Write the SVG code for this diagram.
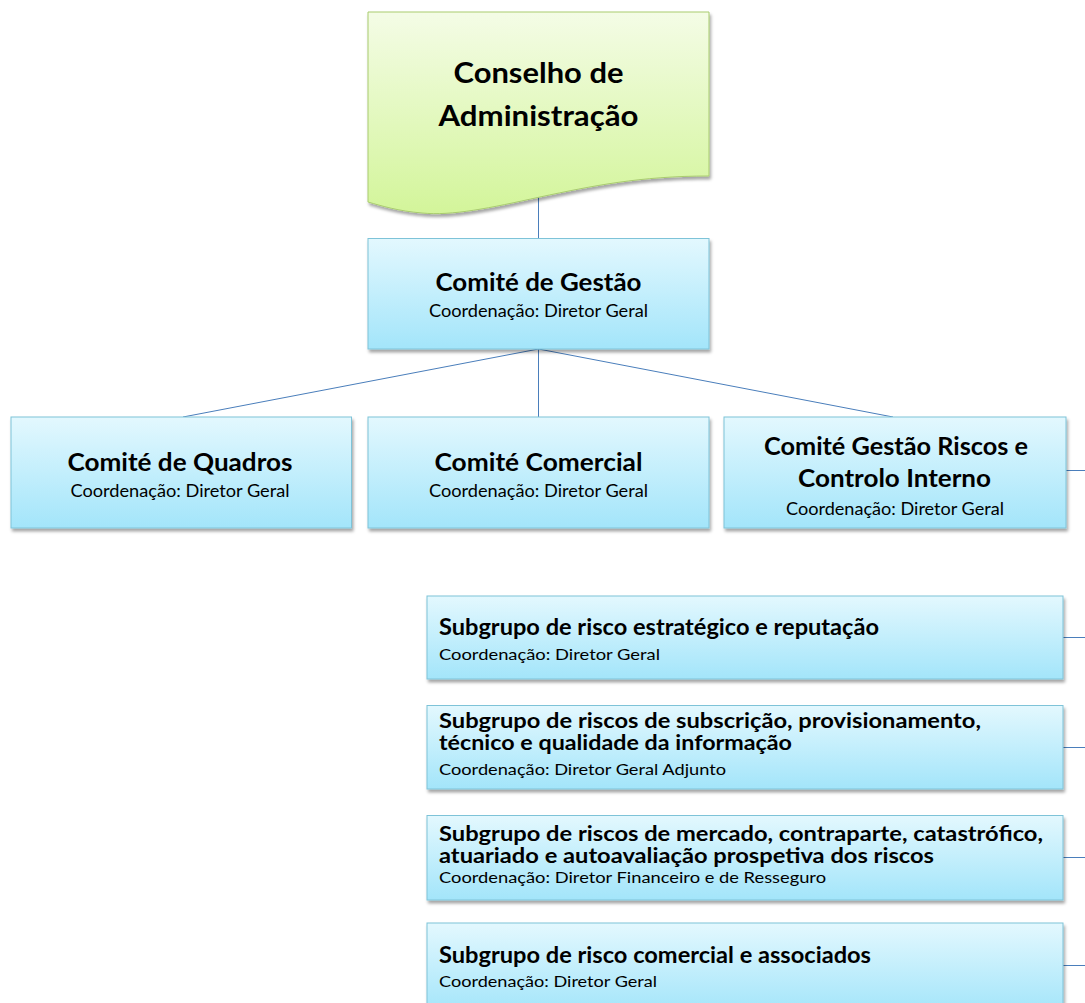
<svg xmlns="http://www.w3.org/2000/svg" width="1085" height="1003" viewBox="0 0 1085 1003">
<defs>
  <linearGradient id="gBlue" x1="0" y1="0" x2="0" y2="1">
    <stop offset="0" stop-color="#E3F8FE"/>
    <stop offset="1" stop-color="#A3E5FA"/>
  </linearGradient>
  <linearGradient id="gGreen" x1="0" y1="0" x2="0" y2="1">
    <stop offset="0" stop-color="#F4FCE6"/>
    <stop offset="1" stop-color="#D3F59A"/>
  </linearGradient>
  <filter id="sh" x="-10%" y="-10%" width="120%" height="130%">
    <feDropShadow dx="1.5" dy="3" stdDeviation="1.8" flood-color="#000" flood-opacity="0.35"/>
  </filter>
</defs>
<style>
  .box { fill: url(#gBlue); stroke: #7EC3D8; stroke-width: 1; filter: url(#sh); }
  .doc { fill: url(#gGreen); stroke: #A9CC6E; stroke-width: 1; filter: url(#sh); }
  .t { font-family: Lato, "Open Sans", "Liberation Sans", sans-serif; fill: #000; }
  .b { font-weight: bold; }
  .c { text-anchor: middle; }
  .conn line { stroke: #4A7EBB; stroke-width: 1; }
</style>

<g class="conn" id="connectors">
  <line x1="538.5" y1="197" x2="538.5" y2="238"/>
  <line x1="538.5" y1="349" x2="183" y2="417"/>
  <line x1="538.5" y1="349" x2="538.5" y2="417"/>
  <line x1="538.5" y1="349" x2="893" y2="417"/>
  <line x1="1066" y1="470.5" x2="1085" y2="470.5"/>
  <line x1="1063" y1="637.5" x2="1085" y2="637.5"/>
  <line x1="1063" y1="747.5" x2="1085" y2="747.5"/>
  <line x1="1063" y1="857.5" x2="1085" y2="857.5"/>
  <line x1="1063" y1="965.5" x2="1085" y2="965.5"/>
</g>

<g id="conselho">
  <path class="doc" d="M368,12 L709,12 L709,176 C640,176 592,186 540,197 C490,208 452,216 422,213 C398,211 382,206 368,202 Z"/>
  <text class="t b c" x="538.5" y="83" font-size="28" textLength="170" lengthAdjust="spacingAndGlyphs">Conselho de</text>
  <text class="t b c" x="538.5" y="126" font-size="28" textLength="200" lengthAdjust="spacingAndGlyphs">Administração</text>
</g>

<g id="gestao">
  <rect class="box" x="368" y="238.5" width="341" height="110.5"/>
  <text class="t b c" x="538.5" y="291" font-size="25" textLength="206" lengthAdjust="spacingAndGlyphs">Comité de Gestão</text>
  <text class="t c" x="538.5" y="317" font-size="17" textLength="219" lengthAdjust="spacingAndGlyphs">Coordenação: Diretor Geral</text>
</g>

<g id="quadros">
  <rect class="box" x="11" y="417" width="340.5" height="111"/>
  <text class="t b c" x="180" y="471" font-size="25" textLength="225" lengthAdjust="spacingAndGlyphs">Comité de Quadros</text>
  <text class="t c" x="180" y="497" font-size="17" textLength="219" lengthAdjust="spacingAndGlyphs">Coordenação: Diretor Geral</text>
</g>

<g id="comercial">
  <rect class="box" x="368" y="417" width="341" height="111"/>
  <text class="t b c" x="538.5" y="471" font-size="25" textLength="208" lengthAdjust="spacingAndGlyphs">Comité Comercial</text>
  <text class="t c" x="538.5" y="497" font-size="17" textLength="219" lengthAdjust="spacingAndGlyphs">Coordenação: Diretor Geral</text>
</g>

<g id="riscos">
  <rect class="box" x="724" y="417" width="342" height="111"/>
  <text class="t b c" x="896" y="455" font-size="25" textLength="264" lengthAdjust="spacingAndGlyphs">Comité Gestão Riscos e</text>
  <text class="t b c" x="894.5" y="487" font-size="25" textLength="193" lengthAdjust="spacingAndGlyphs">Controlo Interno</text>
  <text class="t c" x="895" y="515" font-size="17" textLength="218" lengthAdjust="spacingAndGlyphs">Coordenação: Diretor Geral</text>
</g>

<g id="sub1">
  <rect class="box" x="427" y="596" width="636" height="83"/>
  <text class="t b" x="439" y="635" font-size="22" textLength="440" lengthAdjust="spacingAndGlyphs">Subgrupo de risco estratégico e reputação</text>
  <text class="t" x="439" y="660" font-size="16" textLength="221" lengthAdjust="spacingAndGlyphs">Coordenação:  Diretor Geral</text>
</g>

<g id="sub2">
  <rect class="box" x="427" y="705.5" width="636" height="83.5"/>
  <text class="t b" x="439" y="728" font-size="20" textLength="542" lengthAdjust="spacingAndGlyphs">Subgrupo de riscos de subscrição, provisionamento,</text>
  <text class="t b" x="439" y="750" font-size="20" textLength="353" lengthAdjust="spacingAndGlyphs">técnico e qualidade da informação</text>
  <text class="t" x="439" y="775" font-size="16" textLength="287" lengthAdjust="spacingAndGlyphs">Coordenação:  Diretor Geral Adjunto</text>
</g>

<g id="sub3">
  <rect class="box" x="427" y="815.5" width="636" height="84.5"/>
  <text class="t b" x="439" y="840.5" font-size="20" textLength="604" lengthAdjust="spacingAndGlyphs">Subgrupo de riscos de mercado, contraparte, catastrófico,</text>
  <text class="t b" x="439" y="863" font-size="20" textLength="495" lengthAdjust="spacingAndGlyphs">atuariado e autoavaliação prospetiva dos riscos</text>
  <text class="t" x="439" y="882.5" font-size="15" textLength="387" lengthAdjust="spacingAndGlyphs">Coordenação: Diretor Financeiro e de Resseguro</text>
</g>

<g id="sub4">
  <rect class="box" x="427" y="923" width="636" height="90"/>
  <text class="t b" x="439" y="963" font-size="22" textLength="432" lengthAdjust="spacingAndGlyphs">Subgrupo de risco comercial e associados</text>
  <text class="t" x="439" y="987" font-size="16" textLength="218" lengthAdjust="spacingAndGlyphs">Coordenação: Diretor Geral</text>
</g>
</svg>
